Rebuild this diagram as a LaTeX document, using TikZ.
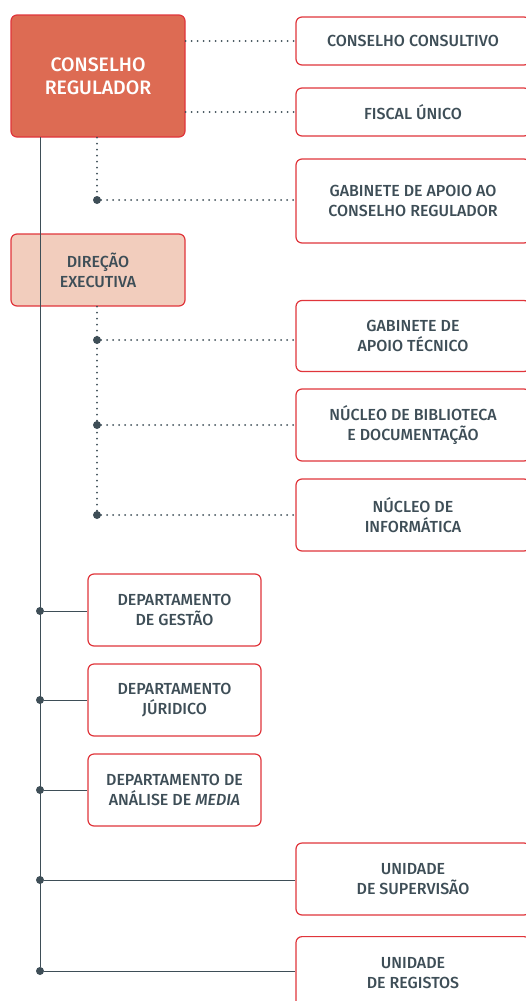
\documentclass[tikz,border=0pt]{standalone}
\usepackage{fontspec}
\setmainfont{Fira Sans Medium}
\definecolor{boxred}{HTML}{E0353B}
\definecolor{topfill}{HTML}{DD6B53}
\definecolor{dirfill}{HTML}{F2CDBD}
\definecolor{slate}{HTML}{3E4E57}
\tikzset{
  unitbox/.style={draw=boxred, line width=1.2pt, rounded corners=6pt, fill=white,
    text=slate, align=center, font=\fontsize{16}{20}\selectfont, inner sep=0pt},
  rightbox/.style={unitbox, minimum width=234pt},
  deptbox/.style={unitbox, minimum width=173pt, minimum height=72pt},
  dotline/.style={slate, line width=2pt, line cap=round, dash pattern=on 0pt off 6pt},
  solidline/.style={slate, line width=0.8pt},
  junction/.style={circle, fill=slate, inner sep=0pt, minimum size=8pt}
}
\begin{document}
\begin{tikzpicture}[x=1pt, y=-1pt]

\useasboundingbox (0,0) rectangle (526,1001);

% Top level boxes
\node[unitbox, fill=topfill, text=white, minimum width=174pt, minimum height=122pt,
  font=\fontsize{19.5}{23}\selectfont] (cr) at (98,76) {CONSELHO\\REGULADOR};
\node[unitbox, fill=dirfill, minimum width=174pt, minimum height=72pt] (de) at (98,270) {DIREÇÃO\\EXECUTIVA};

% Boxes on the right
\node[rightbox, minimum height=48pt] (cc) at (413,41) {CONSELHO CONSULTIVO};
\node[rightbox, minimum height=48pt] (fu) at (413,112) {FISCAL ÚNICO};
\node[rightbox, minimum height=84pt] (gcr) at (413,201) {GABINETE DE APOIO AO\\CONSELHO REGULADOR};
\node[rightbox, minimum height=71pt] (gat) at (413,336) {GABINETE DE\\APOIO TÉCNICO};
\node[rightbox, minimum height=72pt] (nbd) at (413,425) {NÚCLEO DE BIBLIOTECA\\E DOCUMENTAÇÃO};
\node[rightbox, minimum height=72pt] (ni) at (413,515) {NÚCLEO DE\\INFORMÁTICA};

% Departments
\node[deptbox] (dg) at (174.5,610) {DEPARTAMENTO\\DE GESTÃO};
\node[deptbox] (dj) at (174.5,700) {DEPARTAMENTO\\JÚRIDICO};
\node[deptbox] (dam) at (174.5,790) {DEPARTAMENTO DE\\ANÁLISE DE \textit{MEDIA}};

% Units
\node[rightbox, minimum height=72pt] (us) at (413,879) {UNIDADE\\DE SUPERVISÃO};
\node[rightbox, minimum height=72pt, anchor=north] (ur) at (413,936) {UNIDADE\\DE REGISTOS};

% Junctions
\coordinate (top) at (40,137);
\node[junction] (j1) at (97,200) {};
\node[junction] (j2) at (97,340) {};
\node[junction] (j3) at (97,425) {};
\node[junction] (j4) at (97,515) {};
\node[junction] (k1) at (40,611) {};
\node[junction] (k2) at (40,700) {};
\node[junction] (k3) at (40,790) {};
\node[junction] (k4) at (40,880) {};
\node[junction] (k5) at (40,971) {};

% Dotted links
\draw[dotline] (cr.east |- cc) -- (cc.west);
\draw[dotline] (cr.east |- fu) -- (fu.west);
\draw[dotline] (cr.south -| j1) -- (j1) -- (gcr.west |- j1);
\draw[dotline] (de.south -| j1) -- (j4);
\draw[dotline] (j2) -- (gat.west |- j2);
\draw[dotline] (j3) -- (nbd.west |- j3);
\draw[dotline] (j4) -- (ni.west |- j4);

% Main line
\draw[solidline] (top) -- (k5);
\draw[solidline] (k1) -- (dg.west |- k1);
\draw[solidline] (k2) -- (dj.west |- k2);
\draw[solidline] (k3) -- (dam.west |- k3);
\draw[solidline] (k4) -- (us.west |- k4);
\draw[solidline] (k5) -- (ur.west |- k5);

\end{tikzpicture}
\end{document}
